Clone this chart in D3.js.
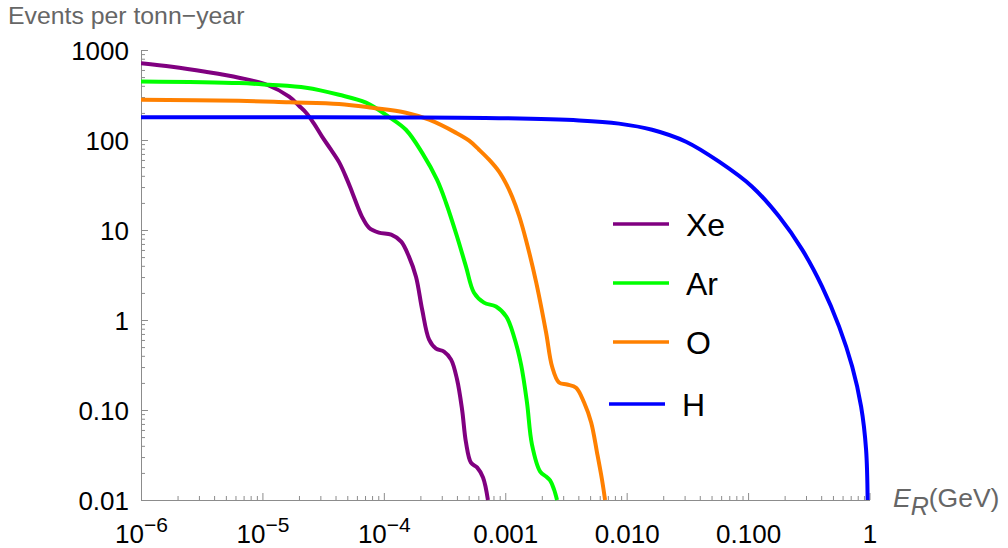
<!DOCTYPE html>
<html><head><meta charset="utf-8">
<script src="https://cdn.jsdelivr.net/npm/d3@7"></script>
<style>
body{margin:0;background:#fff}
svg{display:block}
text{font-family:"Liberation Sans",Arial,sans-serif}
</style>
</head><body>
<svg id="chart" width="1008" height="548"></svg>
<script>
// ---------- data (recoil energy in GeV, events per tonne-year) ----------
const xTickValues = [1e-6, 1e-5, 1e-4, 1e-3, 1e-2, 1e-1, 1];
const xTickLabels = ["10^−6", "10^−5", "10^−4", "0.001", "0.010", "0.100", "1"];
const yTickValues = [0.01, 0.1, 1, 10, 100, 1000];
const yTickLabels = ["0.01", "0.10", "1", "10", "100", "1000"];

const seriesNames = ["Xe", "Ar", "O", "H"];
const seriesColors = ["#800080", "#00ff00", "#ff8000", "#0000ff"];

const xeData = [
  [1e-6, 713], [1.8e-6, 652], [3.4e-6, 573], [6.4e-6, 492], [1.09e-5, 411],
  [1.66e-5, 303], [2.0e-5, 240], [2.29e-5, 201], [2.66e-5, 152], [3.1e-5, 109],
  [3.67e-5, 78], [4.3e-5, 56], [4.98e-5, 36.3], [5.5e-5, 26],
  [6.6e-5, 14.1], [7.55e-5, 10.6], [9.1e-5, 9.35], [1.15e-4, 8.88], [1.39e-4, 7.43],
  [1.61e-4, 5.06], [1.84e-4, 3.03], [2.07e-4, 1.30], [2.36e-4, 0.605], [2.69e-4, 0.481],
  [3.13e-4, 0.446], [3.58e-4, 0.363], [4.01e-4, 0.218], [4.41e-4, 0.101], [4.75e-4, 0.0436],
  [5.22e-4, 0.026], [5.86e-4, 0.023], [6.56e-4, 0.0178], [7.2e-4, 0.01]
];
const arData = [
  [1e-6, 448], [6.4e-6, 430], [1.13e-5, 411], [2.29e-5, 381], [4.28e-5, 318],
  [7.13e-5, 260], [1.10e-4, 181], [1.52e-4, 130], [2.07e-4, 72], [2.74e-4, 36.2],
  [3.25e-4, 20.1], [4.01e-4, 8.44], [4.75e-4, 3.92], [5.53e-4, 2.01], [6.68e-4, 1.56],
  [8.39e-4, 1.41], [1.02e-3, 1.09], [1.18e-3, 0.655], [1.35e-3, 0.32], [1.51e-3, 0.121],
  [1.66e-3, 0.0413], [1.94e-3, 0.0207], [2.17e-3, 0.0182], [2.34e-3, 0.0165], [2.52e-3, 0.0131],
  [2.67e-3, 0.01]
];
const oData = [
  [1e-6, 280], [6.4e-6, 273], [1.66e-5, 262], [4.28e-5, 251], [8.0e-5, 228],
  [1.52e-4, 201], [2.36e-4, 168], [3.94e-4, 120], [5.04e-4, 98.2], [6.08e-4, 78],
  [7.36e-4, 60.4], [8.89e-4, 44.5], [1.016e-3, 32.7], [1.14e-3, 23.4], [1.30e-3, 14.4],
  [1.48e-3, 7.81], [1.80e-3, 2.60], [2.17e-3, 0.724], [2.43e-3, 0.304],
  [2.77e-3, 0.202], [3.23e-3, 0.192], [3.83e-3, 0.177], [4.46e-3, 0.121], [5.10e-3, 0.0727],
  [5.70e-3, 0.0337], [6.26e-3, 0.0169], [6.64e-3, 0.01]
];
const hData = [
  [1e-6, 179], [1e-5, 179], [1.33e-4, 178], [8.89e-4, 175], [4.06e-3, 165],
  [8.65e-3, 152], [0.0162, 130], [0.0308, 95.7], [0.0577, 57.4], [0.108, 30.3],
  [0.180, 14.1], [0.279, 6.05], [0.407, 2.35], [0.562, 0.845], [0.720, 0.304],
  [0.853, 0.109], [0.937, 0.0364], [0.965, 0.01]
];
const allSeries = [xeData, arData, oData, hData];

// ---------- layout ----------
const svg = d3.select("#chart");
const x = d3.scaleLog().domain([1e-6, 1]).range([141, 869.5]);
const y = d3.scaleLog().domain([0.01, 1000]).range([500, 50]);
const axisColor = "#8c8c8c";

function minorTicks(majors) {
  const out = [];
  for (let i = 0; i < majors.length - 1; i++)
    for (let k = 2; k <= 9; k++) out.push(k * majors[i]);
  return out;
}

// minor ticks
svg.append("g").attr("transform", "translate(0,500)")
  .call(d3.axisBottom(x).tickValues(minorTicks(xTickValues)).tickSize(-4).tickFormat(() => ""))
  .call(g => g.select(".domain").remove())
  .call(g => g.selectAll("line").attr("stroke", axisColor));
svg.append("g").attr("transform", "translate(141,0)")
  .call(d3.axisLeft(y).tickValues(minorTicks(yTickValues)).tickSize(-4).tickFormat(() => ""))
  .call(g => g.select(".domain").remove())
  .call(g => g.selectAll("line").attr("stroke", axisColor));

// x major axis
const gx = svg.append("g").attr("transform", "translate(0,500)")
  .call(d3.axisBottom(x).tickValues(xTickValues).tickSize(-7).tickSizeOuter(0).tickFormat(() => ""));
gx.select(".domain").attr("stroke", axisColor);
gx.selectAll("line").attr("stroke", axisColor);
gx.selectAll(".tick").each(function(d, i) {
  const t = d3.select(this).select("text")
    .attr("y", 43).attr("dy", null)
    .attr("fill", "#000").attr("font-size", 26).attr("text-anchor", "middle");
  const parts = xTickLabels[i].split("^");
  t.text(null);
  t.append("tspan").text(parts[0]);
  if (parts.length > 1) t.append("tspan").attr("dy", -11).attr("font-size", 21).text(parts[1]);
});

// y major axis
const gy = svg.append("g").attr("transform", "translate(141,0)")
  .call(d3.axisLeft(y).tickValues(yTickValues).tickSize(-7).tickSizeOuter(0)
    .tickFormat((d, i) => yTickLabels[i]));
gy.select(".domain").attr("stroke", axisColor);
gy.selectAll("line").attr("stroke", axisColor);
gy.selectAll("text").attr("x", -12).attr("dy", "0.35em")
  .attr("fill", "#000").attr("font-size", 26).attr("font-family", null);
gx.selectAll("text").attr("font-family", null);

// clip
svg.append("clipPath").attr("id", "plotclip").append("rect")
  .attr("x", 141).attr("y", 45).attr("width", 731).attr("height", 456);

// curves
const line = d3.line().x(d => x(d[0])).y(d => y(d[1])).curve(d3.curveCatmullRom.alpha(0.5));
svg.append("g").attr("clip-path", "url(#plotclip)")
  .selectAll("path").data(allSeries).join("path")
  .attr("d", line).attr("fill", "none")
  .attr("stroke", (d, i) => seriesColors[i])
  .attr("stroke-width", 4).attr("stroke-linejoin", "round");

// legend
const legendY = [224, 283, 342, 404];
const legendX = [613, 613, 613, 609];
const lg = svg.append("g");
seriesNames.forEach((name, i) => {
  lg.append("line").attr("x1", legendX[i]).attr("x2", legendX[i] + 56)
    .attr("y1", legendY[i]).attr("y2", legendY[i])
    .attr("stroke", seriesColors[i]).attr("stroke-width", 3.5);
  lg.append("text").attr("x", legendX[i] + 73).attr("y", legendY[i] + 11.5)
    .attr("font-size", 32).attr("fill", "#000").text(name);
});

// axis titles
svg.append("text").attr("x", 8).attr("y", 24).attr("font-size", 24.8).attr("fill", "#666")
  .text("Events per tonn−year");
const xt = svg.append("text").attr("x", 893).attr("y", 507).attr("font-size", 26.5).attr("fill", "#666");
xt.append("tspan").attr("font-style", "italic").text("E");
xt.append("tspan").attr("font-style", "italic").attr("dy", 8).attr("font-size", 25).text("R");
xt.append("tspan").attr("dy", -8).text("(GeV)");
</script>
</body></html>
